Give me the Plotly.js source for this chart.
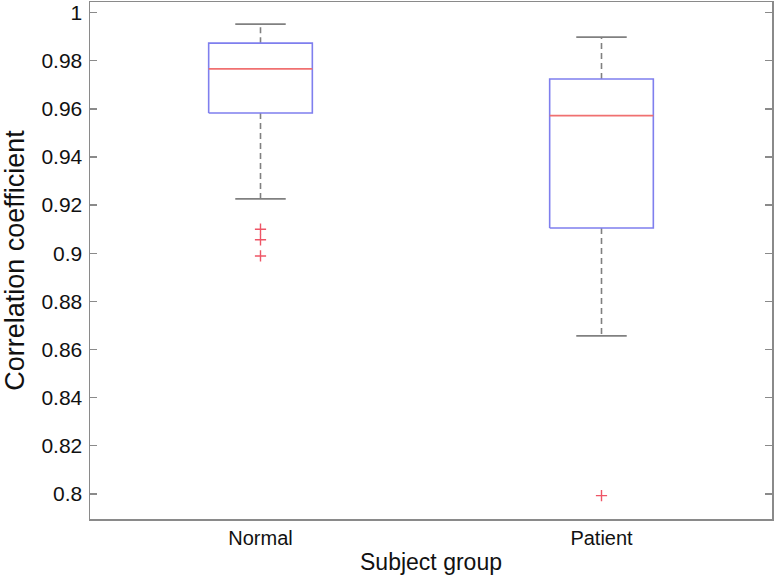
<!DOCTYPE html>
<html>
<head>
<meta charset="utf-8">
<script src="https://cdn.plot.ly/plotly-3.0.1.min.js"></script>
<style>html,body{margin:0;padding:0;background:#fff;}#chart{width:774px;height:578px;}</style>
</head>
<body>
<div id="chart"></div>
<script>
// ---- data ----
const categories = ['Normal', 'Patient'];
const lowerWhisker = [0.9226, 0.8657];
const q1 = [0.9583, 0.9105];
const medians = [0.9766, 0.9572];
const q3 = [0.9873, 0.9724];
const upperWhisker = [0.9952, 0.9898];
const outliersNormal = [0.9100, 0.9056, 0.8989];
const outliersPatient = [0.7993];
const yTickVals = [0.8, 0.82, 0.84, 0.86, 0.88, 0.9, 0.92, 0.94, 0.96, 0.98, 1];
const yTickText = ['0.8', '0.82', '0.84', '0.86', '0.88', '0.9', '0.92', '0.94', '0.96', '0.98', '1'];

// ---- styling constants ----
const boxHalf = 0.152;
const capHalf = 0.074;
const boxColor = '#7f7fee';
const medColor = '#f07070';
const whiskColor = '#808080';

const traces = [];
const outliers = [outliersNormal, outliersPatient];
categories.forEach((c, i) => {
  const x = i + 1;
  traces.push({x: [x, x, null, x, x], y: [q3[i], upperWhisker[i], null, q1[i], lowerWhisker[i]],
    mode: 'lines', line: {color: whiskColor, width: 1.6, dash: '6px,4px'}, hoverinfo: 'skip', showlegend: false});
  traces.push({x: [x - capHalf, x + capHalf, null, x - capHalf, x + capHalf],
    y: [upperWhisker[i], upperWhisker[i], null, lowerWhisker[i], lowerWhisker[i]],
    mode: 'lines', line: {color: whiskColor, width: 1.8}, hoverinfo: 'skip', showlegend: false});
  traces.push({x: [x - boxHalf, x + boxHalf, x + boxHalf, x - boxHalf, x - boxHalf],
    y: [q1[i], q1[i], q3[i], q3[i], q1[i]],
    mode: 'lines', line: {color: boxColor, width: 1.6}, hoverinfo: 'skip', showlegend: false, name: c});
  traces.push({x: [x - boxHalf, x + boxHalf], y: [medians[i], medians[i]],
    mode: 'lines', line: {color: medColor, width: 1.6}, hoverinfo: 'skip', showlegend: false});
  traces.push({x: outliers[i].map(() => x), y: outliers[i], mode: 'markers',
    marker: {symbol: 'cross-thin', size: 8, line: {color: '#ee5566', width: 1.4}},
    showlegend: false});
});

const layout = {
  width: 774, height: 578,
  margin: {l: 90, r: 2, t: 2, b: 59},
  paper_bgcolor: '#fff', plot_bgcolor: '#fff',
  font: {family: '"Liberation Sans", Arial, Helvetica, sans-serif', color: '#111'},
  showlegend: false,
  xaxis: {
    range: [0.5, 2.5], tickvals: [1, 2], ticktext: categories,
    showgrid: false, zeroline: false, ticks: '',
    showline: true, mirror: true, linecolor: '#8a8a8a', linewidth: 1.5,
    tickfont: {size: 20, color: '#111'},
    title: {text: 'Subject group', font: {size: 23, color: '#111'}, standoff: 6},
    automargin: false
  },
  yaxis: {
    range: [0.7896, 1.0044], tickvals: yTickVals, ticktext: yTickText,
    showgrid: false, zeroline: false, ticks: 'inside', ticklen: 7, tickwidth: 1.3, tickcolor: '#8a8a8a',
    showline: true, mirror: 'ticks', linecolor: '#8a8a8a', linewidth: 1.5,
    tickfont: {size: 21, color: '#111'}, ticklabelstandoff: 2,
    title: {text: 'Correlation coefficient', font: {size: 27, color: '#111'}, standoff: 10},
    automargin: false
  }
};

Plotly.newPlot('chart', traces, layout, {displayModeBar: false, staticPlot: true});
</script>
</body>
</html>
